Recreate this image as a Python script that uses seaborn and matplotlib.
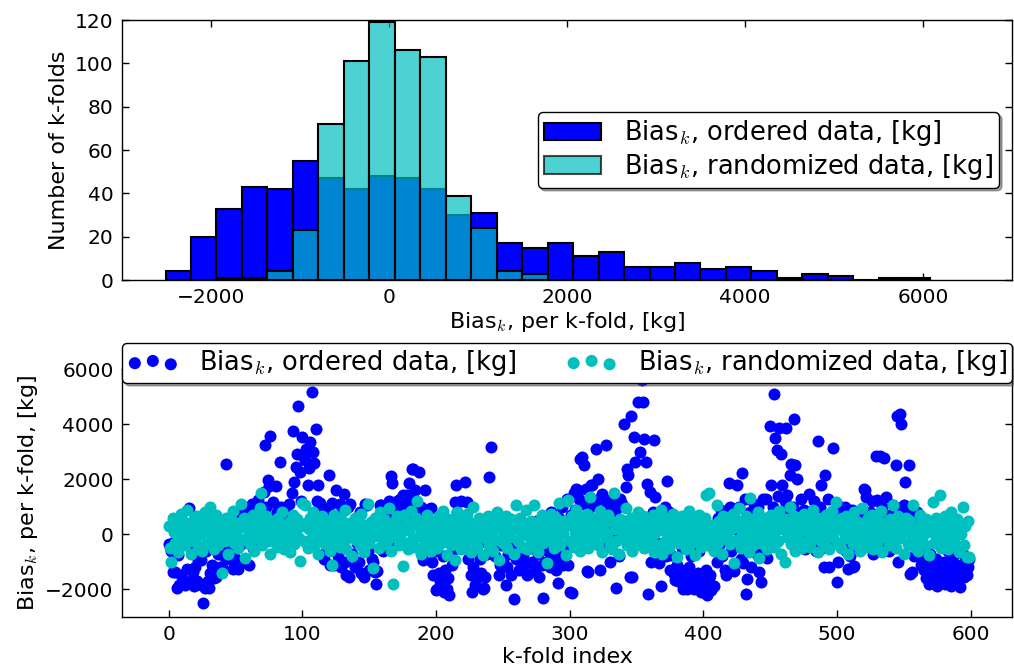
import numpy as np
import pandas as pd
import matplotlib
matplotlib.use("Agg")
import matplotlib.pyplot as plt
import seaborn as sns
from matplotlib.patches import Patch

# ---------------- data ----------------
# histogram: 30 equal-width bins spanning the ordered-data range
hist_min = -2511
hist_max = 6076
n_bins = 30
ordered_counts = [4, 20, 33, 43, 42, 55, 47, 42, 48, 47, 42, 30, 31, 17, 15,
                  17, 11, 13, 6, 6, 8, 5, 6, 4, 1, 3, 2, 0, 1, 1]
randomized_counts = [0, 0, 1, 1, 4, 23, 72, 101, 119, 106, 103, 39, 24, 4, 3,
                     0, 0, 0, 0, 0, 0, 0, 0, 0, 0, 0, 0, 0, 0, 0]

# per-k-fold bias [kg]
ordered_values = [
    -340, 300, -600, -1370, -280, -1370, -1970, -760, -1850, -1500, -300, -1700, -1850, 200, -1250, 940, -1700, -500, -1370, -1900,
    -1200, -1700, -950, -1800, -950, -1850, -2510, -1950, -600, -1700, -1970, -1400, -1100, -200, -1600, -1550, -280, -700, -1190, -1300,
    -1190, -800, 100, 2570, -500, 300, -900, -600, -1250, 600, -890, 200, -1250, -400, 800, -300, 500, -1000, 900, -200,
    -1130, 400, 1100, -500, 1100, 700, 0, 1240, 300, 1000, -300, 1540, 3260, 1000, 1970, 1750, 3580, 600, 1180, 500,
    1750, 800, 100, 2630, 1000, 600, 400, 900, -200, 700, 1100, 500, 1500, 3750, 1900, 2450, 2940, 4660, 2270, 1200,
    3540, 2810, 2700, 3100, 1810, 2400, 3360, 5180, 3000, 2600, 3850, 1200, 1810, 1140, 600, 1000, -890, 300, -600, 900,
    2170, -1130, 1150, -400, -1130, 1630, 700, -800, 1100, -1200, 400, 1450, -1000, -1470, 1000, -1550, 1095, -700, 200, -1200,
    500, -300, -1000, 800, -1400, 300, -1550, 1095, 1060, -600, -1310, 200, -900, -1000, -1370, -1820, -1330, 500, 1080, 1060,
    -600, 300, 900, -400, 600, 1200, 2120, 1850, 800, -300, 1060, 1200, 500, 1300, 900, 1420, 1100, 600, 1420, 1300,
    1850, 1000, 2370, 2390, 1600, 1200, 900, 2250, 400, 1000, -945, 700, 1600, 500, -300, 935, 940, -1005, -1490, -600,
    -2040, -1975, -1400, -1700, -1975, -800, -2100, -1300, -2000, -1600, -2220, -700, -1100, 200, 1180, 1810, 800, -500, 400, 1200,
    -300, 600, 1907, 1180, -900, 300, -1500, -2100, -1200, -1850, -600, -1600, -300, -900, -1400, -1975, -1950, -1550, -700, 200,
    2090, 3180, 500, -300, -800, 300, 790, -1490, -1100, -400, -1000, 100, -1850, -1200, -700, -300, -1500, 200, -2340, -600,
    -900, 300, -1300, -760, 400, -760, -1100, 0, -1490, -1430, -500, 300, -1000, -200, -1300, 500, -700, -1550, -400, -1100,
    -2315, -300, -1000, 200, -600, -1200, 800, -400, -900, 300, -1300, -1760, 600, -800, 1000, -1100, 300, -500, 1300, -1125,
    -2100, 700, -2130, 1500, 900, 1665, 1600, 1300, 2755, 2810, 1100, 2510, 1660, -1340, -1370, 1000, 1785, 1790, 1120, 400,
    3120, 2030, 1300, -1310, 1480, 600, -500, 3240, 1120, 900, -1000, 300, 1300, -200, 700, -1950, 1000, -800, 1300, 1100,
    500, 4030, 1725, 2390, 2150, -1550, 4300, -1550, 3540, 2630, 450, 4820, 6076, 3000, 5600, 4820, 3480, 2635, 1845, -2180,
    1540, -1000, 800, 3420, 1360, -300, 600, -1060, -1880, 300, -600, 1000, -800, 1930, 815, -1300, -760, 200, -1430, -1670,
    -1100, -1710, 400, -1300, -500, -1980, -1600, 100, -1975, -1200, -1800, -800, -1500, -2000, 300, -1700, -1400, -600, -2100, -1500,
    -2000, -1800, -1300, -2216, -1600, -1490, -2040, -500, -1900, 200, -1000, 600, -400, 900, -800, 300, -1310, -1490, 500, 1850,
    1000, -600, 700, -1340, 200, 1810, -300, 1000, -900, 2240, -1060, 1300, -2190, -1610, 400, 800, -1200, -300, 1100, 500,
    -700, 1000, -1370, -1730, 600, 1300, -400, 1300, -860, 630, 3930, 1785, 1000, 5120, 3510, 3060, 1400, 3870, 2940, 1810,
    800, 1200, 3870, 1420, 300, 2150, 2570, 1000, 4180, 2540, 2030, 700, -460, 1300, -100, 900, -520, 600, 0, 1460,
    400, -300, 800, 1200, -600, 200, 3390, 1000, 1785, -500, -1185, 2150, 500, 1300, -1190, 0, 800, 3155, -300, 600,
    -1730, -1000, 500, 1000, -400, 200, 1000, -600, -1250, 300, -800, 900, -1185, -1160, 100, -500, 700, 200, -300, 900,
    1665, 1603, 1360, 400, -200, 800, 1200, -700, 300, 2855, 1240, -400, 2853, 600, 1000, 2780, -300, 1360, 200, -600,
    700, -200, 1060, 400, 2513, 4296, -1000, 4393, 4030, 1000, 1080, 1907, 815, 300, 2513, -1430, -1390, 500, -800, 200,
    815, 755, -700, -1100, -400, -1300, -900, -1600, -1000, -1800, -700, -1250, -1500, -1610, -900, -1900, -1300, -1550, -1100, -1700,
    -1000, -1800, -1400, -600, -1500, -1900, -1200, -800, -1730, -1400, -1100, -1600, -1920, -1300, -700, -1550, -1000, -1500, -1200, -900,
]

randomized_values = [
    300, -500, -1000, 600, 100, -300, 450, -650, 200, 750, -100, 500, -400, 0, 900, -250, 350, -700, 150, 550,
    -200, 650, -450, 250, 0, -600, 400, 800, -350, 100, 550, 1000, -150, 300, -550, 700, 200, -400, 450, -50,
    -1400, 350, -250, 600, -700, 150, -100, 500, 850, -300, 50, 400, -500, 250, 1100, -200, 600, -850, 300, -50,
    450, -350, 100, 700, -600, 200, 550, -150, 950, 1500, -400, 300, 0, 650, -250, 400, -700, 150, 500, -100,
    250, -450, 600, 50, -300, 800, -550, 350, -200, 150, 450, -650, 0, 700, -350, 250, 550, -100, -980, 300,
    1150, -250, 1060, 400, -500, 200, 600, -150, 800, -400, 50, 450, -700, 300, -200, 650, 100, -350, 500, -50,
    350, -600, -1130, 200, 700, -300, 450, 0, -450, 550, 150, -250, 900, -550, 300, -100, 400, -800, 250, 600,
    -200, 500, 50, -400, 750, 200, -650, 350, -150, 1120, -300, 450, 100, -1220, 600, -50, 300, -500, 800, 150,
    -350, 550, 0, -250, 400, 950, -600, 200, -1820, 500, -100, 650, -400, 250, 50, -1150, 700, -300, 400, -550,
    150, 850, -200, 350, -450, 600, 1200, -50, 250, -700, 450, 100, -350, 700, -150, 300, -600, 500, 0, -250,
    400, -500, 650, 150, -300, 850, -100, 350, -750, 550, 200, -400, 0, 450, -940, 300, 815, -200, 600, -550,
    100, 500, -350, 750, -50, 250, -650, 400, 1000, -250, 150, -450, 600, 0, 350, -750, 500, -150, 200, 650,
    -400, 300, 50, -600, 550, -200, 800, -940, 250, 450, -300, 100, 650, -500, 350, -100, 550, 200, -700, 400,
    1060, -250, 150, 600, -450, 0, 350, 900, -550, 250, -150, 500, -350, 1060, 100, 450, -650, 300, -50, 700,
    -300, 550, 150, -1060, 400, -200, 750, 50, -500, 300, 600, -100, 1140, -400, 250, 0, 500, -750, 1200, 1240,
    -250, 350, 650, -450, 100, 900, -150, 450, -600, 200, 550, -300, 0, 750, -500, 1360, 300, -200, 400, -50,
    600, -400, 150, 850, -650, 250, 450, -100, 0, 700, -350, 500, -550, 1510, 200, -250, 350, -700, 550, 100,
    -150, 400, 950, -400, 250, 0, 600, -600, 300, -200, 500, 800, -350, 150, -50, 650, -500, 350, 200, -300,
    450, -100, 700, -650, 50, 550, -400, 300, 900, -700, 150, -250, 600, 400, -500, 250, -150, 750, 0, 350,
    -820, 500, -300, 200, 650, -50, 400, -550, 100, 850, -350, 300, 550, -200, -750, 450, 0, 700, -450, 250,
    -100, 600, 1420, -400, 1500, 150, -250, 350, -600, 50, 1080, -300, 500, 250, -700, 650, -150, 400, 0, 550,
    -350, 200, 750, -1030, 300, -200, 500, 950, -500, 100, 400, -250, 650, 0, -650, 1320, 250, -400, 550, -100,
    350, 800, -880, 150, -300, 450, 0, 600, -550, 250, -150, 700, 350, -450, 100, 500, -250, 850, -700, 300,
    200, -1000, 550, -100, 400, 1000, -350, 250, 650, -600, 0, 450, -200, 300, -500, 750, 150, -300, 550, 50,
    -450, 350, 900, -150, 200, 600, -650, 400, -250, 100, 500, -400, 700, 0, -550, 300, 850, -100, 450, 1180,
    -300, 250, 550, -500, 150, 400, -150, 650, -700, 300, 0, 500, -350, 800, 200, -250, 450, -600, 100, 950,
    -50, 350, -450, 600, 250, -200, 700, -550, 150, 400, -300, 500, 0, 850, -650, 300, -100, 450, 200, -400,
    550, -250, 1060, 100, -500, 350, 650, -150, 0, 400, -700, 250, 600, -350, 150, 500, -50, 1060, -450, 300,
    200, -600, 700, -200, 450, 0, -400, 550, 250, -750, 350, 100, 1180, -300, 600, -150, 400, 1440, -500, 200,
    -250, 650, 50, -550, 350, 800, -100, 450, -350, 150, 550, -650, 250, 0, 1000, -400, 300, -820, 500, -820,
]

assert len(ordered_values) == 600, len(ordered_values)
assert len(randomized_values) == 600, len(randomized_values)

label_ordered = r"Bias$_k$, ordered data, [kg]"
label_random = r"Bias$_k$, randomized data, [kg]"

# ---------------- style ----------------
sns.set_style("ticks")
plt.rcParams.update({
    "font.family": ["DejaVu Sans"],
    "mathtext.fontset": "cm",
    "text.color": "black",
    "axes.labelcolor": "black",
    "xtick.direction": "in",
    "ytick.direction": "in",
    "xtick.top": True,
    "ytick.right": True,
    "xtick.major.size": 5,
    "ytick.major.size": 5,
    "xtick.major.width": 1.0,
    "ytick.major.width": 1.0,
    "xtick.major.pad": 6,
    "ytick.major.pad": 6,
    "axes.linewidth": 1.0,
    "axes.edgecolor": "black",
    "xtick.color": "black",
    "ytick.color": "black",
    "font.size": 15,
    "xtick.labelsize": 14.5,
    "ytick.labelsize": 14.5,
    "axes.labelsize": 16,
})

fig = plt.figure(figsize=(10.14, 6.68), dpi=100)
ax1 = fig.add_axes([0.1203, 0.5808, 0.8777, 0.3892])
ax2 = fig.add_axes([0.1203, 0.0768, 0.8777, 0.3701])

edges = np.linspace(hist_min, hist_max, n_bins + 1)
centers = (edges[:-1] + edges[1:]) / 2

# ---------------- top: histograms ----------------
df_ord = pd.DataFrame({"center": centers, "count": ordered_counts})
sns.histplot(data=df_ord, x="center", weights="count", bins=edges.tolist(),
             color="blue", alpha=1.0, edgecolor="black", linewidth=1.5, ax=ax1)
rc = np.array(randomized_counts)
nz = np.nonzero(rc)[0]
lo, hi = int(nz[0]), int(nz[-1])
df_rnd = pd.DataFrame({"center": centers[lo:hi + 1], "count": rc[lo:hi + 1]})
sns.histplot(data=df_rnd, x="center", weights="count",
             bins=edges[lo:hi + 2].tolist(),
             color=(0.0, 0.75, 0.75), alpha=0.7, edgecolor="black",
             linewidth=1.5, ax=ax1)
ax1.set_xlim(-3000, 7000)
ax1.set_ylim(0, 120)
ax1.set_xticks([-2000, 0, 2000, 4000, 6000])
ax1.set_yticks([0, 20, 40, 60, 80, 100, 120])
ax1.set_xlabel(r"Bias$_k$, per k-fold, [kg]", labelpad=2)
ax1.set_ylabel("Number of k-folds")
handles = [Patch(facecolor="blue", edgecolor="black", linewidth=1.5),
           Patch(facecolor=(0.0, 0.75, 0.75), edgecolor="black", alpha=0.7, linewidth=1.5)]
leg1 = ax1.legend(handles, [label_ordered, label_random], loc="center right",
                  fontsize=18.5, fancybox=True, shadow=True, framealpha=1.0,
                  edgecolor="black", handlelength=2.2, handletextpad=0.9,
                  labelspacing=0.12, borderpad=0.25)
leg1.get_frame().set_linewidth(1.0)

# ---------------- bottom: scatter ----------------
idx = np.arange(len(ordered_values))
sns.scatterplot(x=idx, y=ordered_values, color="blue", s=75, linewidth=0,
                label=label_ordered, ax=ax2)
sns.scatterplot(x=idx, y=randomized_values, color=(0.0, 0.75, 0.75), s=75,
                linewidth=0, label=label_random, ax=ax2)
ax2.set_xlim(-35, 631)
ax2.set_ylim(-3000, 6000)
ax2.set_xticks([0, 100, 200, 300, 400, 500, 600])
ax2.set_yticks([-2000, 0, 2000, 4000, 6000])
ax2.set_xlabel("k-fold index", labelpad=2)
ax2.set_ylabel(r"Bias$_k$, per k-fold, [kg]")
leg2 = ax2.legend(loc="lower left", bbox_to_anchor=(0.0, 0.945, 1.0, 0.17),
                  mode="expand", ncol=2, borderaxespad=0.0, scatterpoints=3,
                  fontsize=18.5, fancybox=True, shadow=True, framealpha=1.0,
                  edgecolor="black", borderpad=0.2, handletextpad=0.8)
leg2.get_frame().set_linewidth(1.0)

fig.savefig("out.png", dpi=100)
